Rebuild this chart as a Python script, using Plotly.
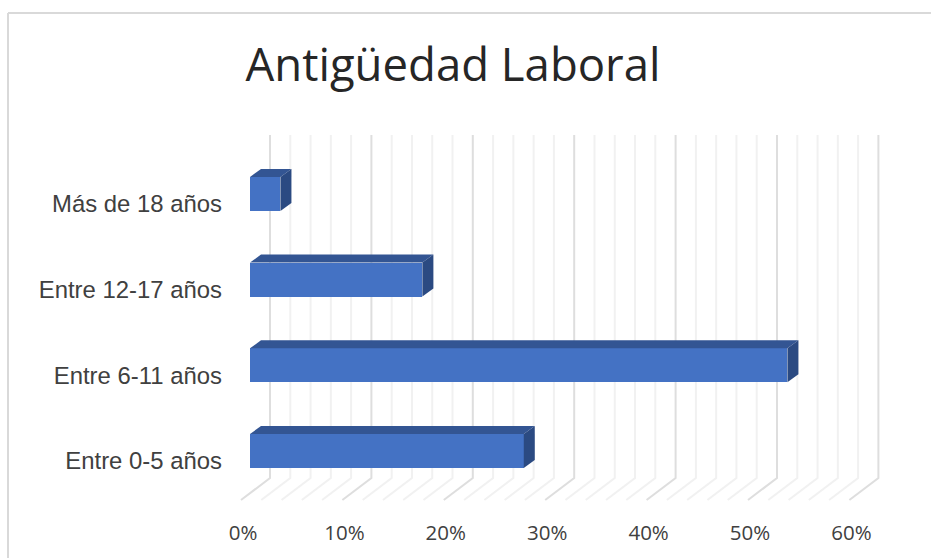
import plotly.graph_objects as go

categories = ["Entre 0-5 años", "Entre 6-11 años", "Entre 12-17 años", "Más de 18 años"]
values = [27, 53, 17, 3]
positions = [0, 1, 2, 3]
major_ticks = [0, 10, 20, 30, 40, 50, 60]
minor_ticks = [2, 4, 6, 8, 12, 14, 16, 18, 22, 24, 26, 28, 32, 34, 36, 38, 42, 44, 46, 48, 52, 54, 56, 58]
tick_labels = ["0%", "10%", "20%", "30%", "40%", "50%", "60%"]
title_text = "Antigüedad Laboral"

W, H = 931, 558
PL, PR, PT, PB = 220, 900, 130, 510       # plot rectangle in page pixels
PX_PER_UNIT = 10.14                        # horizontal pixels per percent
X0_PX = 250                                # bar origin
Y_STEP = 85.7                              # vertical pixels per category
Y0_PX = 451                                # centre of lowest bar

xr = [(PL - X0_PX) / PX_PER_UNIT, (PR - X0_PX) / PX_PER_UNIT]
yr = [(Y0_PX - PB) / Y_STEP, (Y0_PX - PT) / Y_STEP]
LABEL_SHIFT = -7 / PX_PER_UNIT             # tick labels sit left of the bar origin

dx = lambda px: px / PX_PER_UNIT
dy = lambda px: px / Y_STEP
BAR_H = dy(34)
DEPTH_X, DEPTH_Y = dx(11), dy(8)
WALL_X = dx(20)
FLOOR_FRONT_X = dx(-9)
WALL_BOTTOM, WALL_TOP = (Y0_PX - 478) / Y_STEP, (Y0_PX - 135) / Y_STEP
FLOOR_FRONT_Y = (Y0_PX - 500) / Y_STEP

fig = go.Figure()

def grid_shapes(ticks, color, width):
    out = []
    for t in ticks:
        xb = t + WALL_X
        path = f"M {xb} {WALL_TOP} L {xb} {WALL_BOTTOM} L {t + FLOOR_FRONT_X} {FLOOR_FRONT_Y}"
        out.append(dict(type="path", path=path, xref="x", yref="y", layer="below",
                        line=dict(color=color, width=width)))
    return out

fig.add_trace(go.Bar(x=values, y=positions, orientation="h", width=BAR_H,
                     marker=dict(color="#4472c4", line=dict(width=0)), showlegend=False))

for v, p in zip(values, positions):
    top, bot = p + BAR_H / 2, p - BAR_H / 2
    fig.add_trace(go.Scatter(x=[0, DEPTH_X, v + DEPTH_X, v], y=[top, top + DEPTH_Y, top + DEPTH_Y, top],
                             fill="toself", fillcolor="#335593", mode="lines", line=dict(width=0),
                             hoverinfo="skip", showlegend=False))
    fig.add_trace(go.Scatter(x=[v, v + DEPTH_X, v + DEPTH_X, v], y=[top, top + DEPTH_Y, bot + DEPTH_Y, bot],
                             fill="toself", fillcolor="#2b4a82", mode="lines", line=dict(width=0),
                             hoverinfo="skip", showlegend=False))

# invisible trace that carries the tick-label axis
fig.add_trace(go.Scatter(x=major_ticks, y=[0] * len(major_ticks), xaxis="x2", mode="markers",
                         marker=dict(opacity=0), hoverinfo="skip", showlegend=False))

X_FONT = dict(family="Open Sans", size=20.5, color="#404040")
Y_FONT = dict(family="Liberation Sans", size=23.9, color="#404040")
frame_x = (8 - PL) / (PR - PL)
frame_y = (PB - 13) / (PB - PT)
fig.update_layout(
    width=W, height=H, autosize=False, bargap=0,
    paper_bgcolor="white", plot_bgcolor="rgba(0,0,0,0)",
    margin=dict(l=PL, r=W - PR, t=PT, b=H - PB),
    title=dict(text=title_text, x=453 / W, xanchor="center", y=1 - 65 / H, yanchor="middle",
               font=dict(family="Open Sans", size=45.5, color="#262626")),
    xaxis=dict(range=xr, showgrid=False, zeroline=False, showticklabels=False, ticks="", showline=False),
    xaxis2=dict(range=[xr[0] - LABEL_SHIFT, xr[1] - LABEL_SHIFT], overlaying="x", side="bottom",
                anchor="y", tickvals=major_ticks, ticktext=tick_labels, showgrid=False,
                zeroline=False, ticks="", showline=False, tickfont=X_FONT, ticklabelstandoff=8),
    yaxis=dict(range=yr, tickvals=positions, ticktext=categories, showgrid=False, zeroline=False,
               ticks="", showline=False, tickfont=Y_FONT, ticklabelshift=10, ticklabelstandoff=-3),
    shapes=grid_shapes(minor_ticks, "#f1f1f1", 2) + grid_shapes(major_ticks, "#dedede", 2) + [
        dict(type="line", xref="paper", yref="paper", layer="below",
             x0=frame_x, x1=frame_x, y0=frame_y, y1=(PB - H) / (PB - PT),
             line=dict(color="#d9d9d9", width=2)),
        dict(type="line", xref="paper", yref="paper", layer="below",
             x0=frame_x, x1=(W - PL) / (PR - PL), y0=frame_y, y1=frame_y,
             line=dict(color="#d9d9d9", width=2)),
    ],
)
fig.write_html("out.html", post_script="document.body.style.margin='0';",
               config=dict(displayModeBar=False))
